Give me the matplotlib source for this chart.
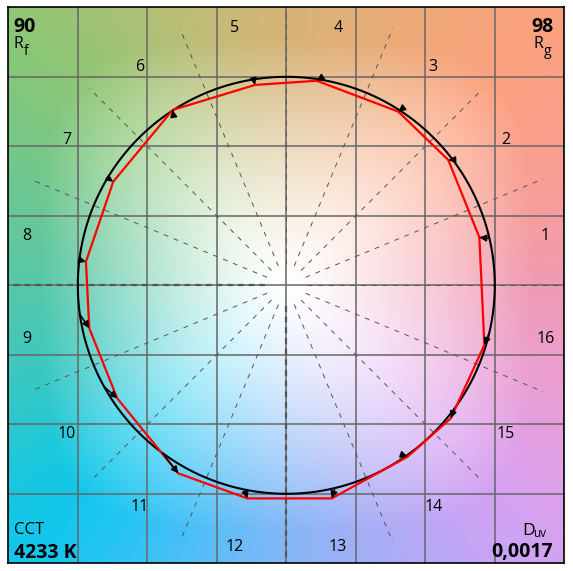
import numpy as np
import matplotlib
matplotlib.use("Agg")
import matplotlib.pyplot as plt
from matplotlib.colors import to_rgb

plt.rcParams['font.family'] = ['Open Sans', 'DejaVu Sans']

# --- data --------------------------------------------------------------
bin_labels = [str(i) for i in range(1, 17)]
# reference hue angle (deg) of each hue bin on the unit circle
ref_hue = [13, 37, 57, 81, 99, 123, 149, 173, 188, 209, 233.5, 258.5,
           283.5, 305, 323.5, 347]
# normalised test-source chroma vectors (red polygon)
test_x = [0.926, 0.777, 0.537, 0.146, -0.150, -0.545, -0.830, -0.961,
          -0.945, -0.811, -0.518, -0.187, 0.218, 0.582, 0.789, 0.950]
test_y = [0.230, 0.601, 0.833, 0.981, 0.961, 0.841, 0.497, 0.113,
          -0.206, -0.542, -0.902, -1.022, -1.022, -0.822, -0.638, -0.286]
rf_value = "90"
rg_value = "98"
cct_value = "4233 K"
duv_value = "0,0017"

# colours seen along the frame for the background gradient
bg_angles = np.arange(0, 360, 22.5)
bg_colors = ['#f09ab4', '#f8a094', '#ffa07c', '#eaac78', '#d8b478', '#bcbe78',
             '#8cc870', '#70c890', '#58c8a8', '#38c8c4', '#00c8f0', '#48c0f8',
             '#88b8f8', '#acacf4', '#d8a0f8', '#eca0d4']

lim = 4 / 3
px = 1 / 556  # one pixel in axes fraction

fig = plt.figure(figsize=(5.73, 5.71), dpi=100)
ax = fig.add_axes([8.3 / 573, 7.7 / 571, 556 / 573, 556 / 571])

# background: hue colour by angle, fading to white toward the centre
n = 500
g = np.linspace(-lim, lim, n)
X, Y = np.meshgrid(g, g)
theta = np.degrees(np.arctan2(Y, X)) % 360
rn = (np.abs(X) ** 4 + np.abs(Y) ** 4) ** 0.25 / lim
t = np.clip(rn / 0.88, 0, 1) ** 1.3
rgb = np.array([to_rgb(c) for c in bg_colors])
d = (theta[..., None] - bg_angles[None, None, :] + 180) % 360 - 180
w = np.exp(-0.5 * (d / 13.0) ** 2)
edge_c = (w[..., None] * rgb[None, None]).sum(axis=2) / w.sum(axis=2)[..., None]
img = 1 + t[..., None] * (edge_c - 1)
ax.imshow(np.clip(img, 0, 1), extent=[-lim, lim, -lim, lim], origin='lower',
          interpolation='bilinear', zorder=0)

# grid
ticks = np.arange(-1, 1.01, 1 / 3)
ax.set_xticks(ticks)
ax.set_yticks(ticks)
ax.grid(True, color='#666666', lw=1.1, zorder=1)
ax.tick_params(length=0, labelbottom=False, labelleft=False)

# radial bin boundaries
for a in np.arange(0, 360, 22.5):
    ca, sa = np.cos(np.radians(a)), np.sin(np.radians(a))
    if a in (180, 270):
        ax.plot([0.1 * ca, lim * ca], [0.1 * sa, lim * sa], color='#555555',
                lw=1.6, dashes=(2.6, 2.2), zorder=2)
    else:
        ax.plot([0.1 * ca, lim * ca], [0.1 * sa, lim * sa], color='#555555',
                lw=0.7, dashes=(5, 6), zorder=2)

# reference circle
phi = np.linspace(0, 2 * np.pi, 400)
ax.plot(np.cos(phi), np.sin(phi), color='black', lw=1.5, zorder=3)

# test polygon
ax.plot(test_x + test_x[:1], test_y + test_y[:1], color='#ff0000', lw=1.6, zorder=4)

# arrows from reference to test
for h, tx, ty in zip(ref_hue, test_x, test_y):
    rx, ry = np.cos(np.radians(h)), np.sin(np.radians(h))
    ax.annotate('', xy=(tx, ty), xytext=(rx, ry),
                arrowprops=dict(arrowstyle='-|>', color='black', lw=1.1,
                                mutation_scale=10, shrinkA=0, shrinkB=0),
                zorder=5)

# hue bin numbers
for i, lab in enumerate(bin_labels):
    a = np.radians(11.25 + 22.5 * i)
    ax.text(1.268 * np.cos(a), 1.268 * np.sin(a), lab, fontsize=11.5,
            ha='center', va='center_baseline', zorder=6)

# corner annotations
kw = dict(transform=ax.transAxes, va='baseline')
ax.text(5.4 * px, 1 - 24.4 * px, rf_value, fontsize=14, fontweight='bold',
        ha='left', **kw)
ax.text(5.4 * px, 1 - 40.4 * px, 'R', fontsize=11.5, ha='left', **kw)
ax.text(15.8 * px, 1 - 47.7 * px, 'f', fontsize=10, ha='left', **kw)
ax.text(545 * px, 1 - 24.4 * px, rg_value, fontsize=14, fontweight='bold',
        ha='right', **kw)
ax.text(525 * px, 1 - 40.4 * px, 'R', fontsize=11.5, ha='left', **kw)
ax.text(535.2 * px, 1 - 47.7 * px, 'g', fontsize=10, ha='left', **kw)
ax.text(5.4 * px, 1 - 527 * px, 'CCT', fontsize=12, ha='left', **kw)
ax.text(5.4 * px, 1 - 550.3 * px, cct_value, fontsize=14, fontweight='bold',
        ha='left', **kw)
ax.text(514 * px, 1 - 527.7 * px, 'D', fontsize=12.5, ha='left', **kw)
ax.text(525.3 * px, 1 - 529.2 * px, 'uv', fontsize=8.5, ha='left', **kw)
ax.text(545 * px, 1 - 549.7 * px, duv_value, fontsize=14, fontweight='bold',
        ha='right', **kw)

ax.set_xlim(-lim, lim)
ax.set_ylim(-lim, lim)
for s in ax.spines.values():
    s.set_linewidth(1.2)
    s.set_color('black')

fig.savefig('out.png', dpi=100)
